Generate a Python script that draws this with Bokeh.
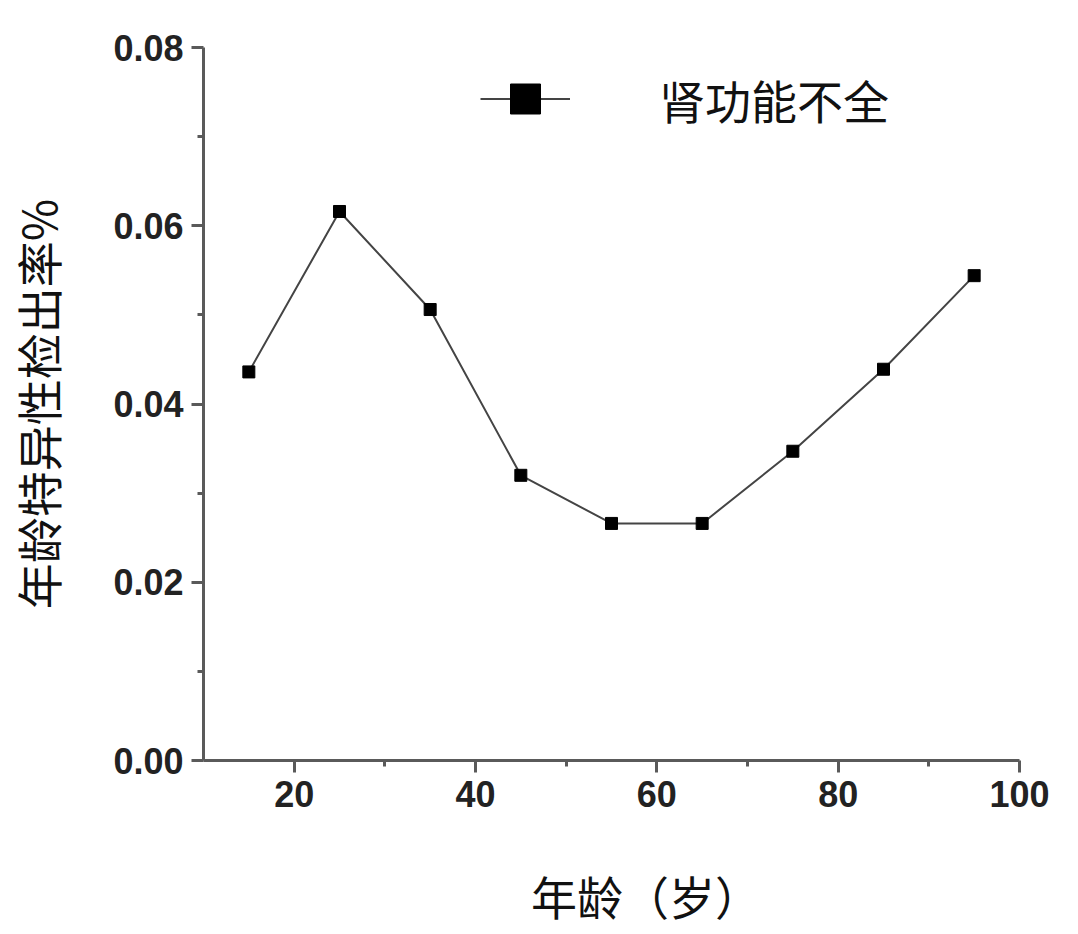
from bokeh.plotting import figure
from bokeh.models import Range1d, FixedTicker, PrintfTickFormatter, Legend, LegendItem
from bokeh.embed import file_html
from bokeh.resources import INLINE

ages = [15, 25, 35, 45, 55, 65, 75, 85, 95]
rates = [0.0436, 0.0616, 0.0506, 0.0320, 0.0266, 0.0266, 0.0347, 0.0439, 0.0544]
series_name = "肾功能不全"
x_label = "年龄（岁）"
y_label = "年龄特异性检出率%"
x_major = [20, 40, 60, 80, 100]
x_minor = [30, 50, 70, 90]
y_major = [0.0, 0.02, 0.04, 0.06, 0.08]
y_minor = [0.01, 0.03, 0.05, 0.07]

p = figure(width=1078, height=934, output_backend="svg", toolbar_location=None,
           x_range=Range1d(10, 100), y_range=Range1d(0, 0.08),
           min_border_left=203, min_border_right=59, min_border_top=47, min_border_bottom=174)
p.outline_line_color = None
p.xgrid.visible = False
p.ygrid.visible = False
p.background_fill_color = "white"
p.border_fill_color = "white"

ln = p.line(ages, rates, line_color="#444444", line_width=2)
sc = p.scatter(ages, rates, marker="square", size=12, fill_color="black", line_color="black")

axis_col = "#5a5a5a"
for ax in (p.xaxis[0], p.yaxis[0]):
    ax.axis_line_color = axis_col
    ax.axis_line_width = 3
    ax.major_tick_line_color = axis_col
    ax.major_tick_line_width = 3
    ax.minor_tick_line_color = axis_col
    ax.minor_tick_line_width = 3
    ax.major_tick_out = 12
    ax.major_tick_in = 0
    ax.minor_tick_out = 6
    ax.minor_tick_in = 0
    ax.major_label_text_font = "Liberation Sans"
    ax.major_label_text_font_style = "bold"
    ax.major_label_text_font_size = "36px"
    ax.major_label_text_color = "#222222"
    ax.major_label_standoff = 8
    ax.axis_label_text_font = "Noto Sans CJK SC"
    ax.axis_label_text_font_style = "normal"
    ax.axis_label_text_font_size = "46px"
    ax.axis_label_text_color = "#111111"

p.xaxis[0].ticker = FixedTicker(ticks=x_major, minor_ticks=x_minor)
p.yaxis[0].ticker = FixedTicker(ticks=y_major, minor_ticks=y_minor)
p.yaxis[0].formatter = PrintfTickFormatter(format="%.2f")

p.yaxis[0].axis_label = y_label
p.yaxis[0].axis_label_standoff = 40

# leading em/en spaces shift the centred label to the right, as in the reference
p.xaxis[0].axis_label = "\u3000\u2002" + x_label
p.xaxis[0].axis_label_standoff = 52

legend = Legend(items=[LegendItem(label=series_name, renderers=[ln, sc])],
                location=(277, 624), padding=0, margin=0, spacing=0,
                glyph_width=90, glyph_height=75, label_height=75, label_standoff=89,
                label_text_font="Noto Sans CJK SC", label_text_font_size="46px",
                label_text_color="#111111", border_line_color=None, background_fill_alpha=0)
p.add_layout(legend, "center")

open("out.html", "w").write(file_html(p, INLINE))
